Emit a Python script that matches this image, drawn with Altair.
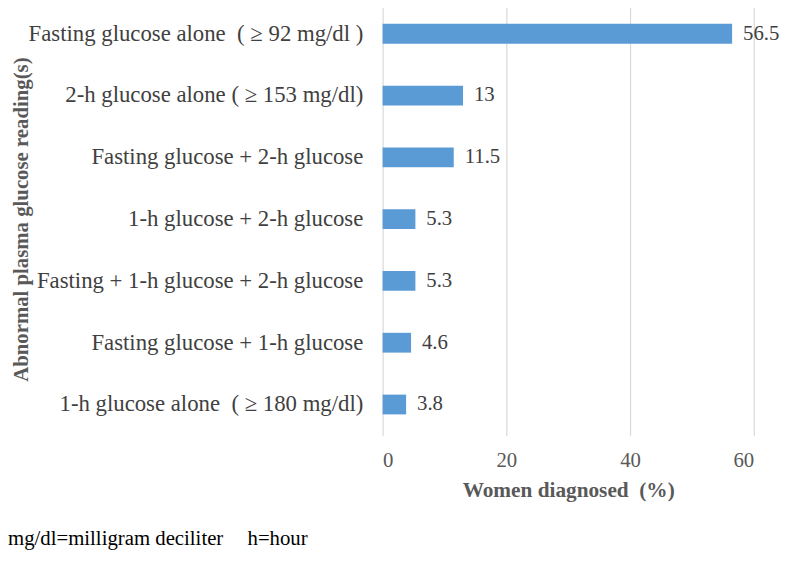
import altair as alt
import pandas as pd

NB = "\u00a0"
categories = [
    "Fasting glucose alone" + NB + " ( \u2265 92 mg/dl )",
    "2-h glucose alone ( \u2265 153 mg/dl)",
    "Fasting glucose + 2-h glucose",
    "1-h glucose + 2-h glucose",
    "Fasting + 1-h glucose + 2-h glucose",
    "Fasting glucose + 1-h glucose",
    "1-h glucose alone" + NB + " ( \u2265 180 mg/dl)",
]
values = [56.5, 13, 11.5, 5.3, 5.3, 4.6, 3.8]
value_labels = ["56.5", "13", "11.5", "5.3", "5.3", "4.6", "3.8"]
x_ticks = [0, 20, 40, 60]
footnotes = ["mg/dl=milligram deciliter", "h=hour"]

df = pd.DataFrame({"cat": categories, "val": values, "lab": value_labels})

FONT = "Liberation Serif"

y_enc = alt.Y(
    "cat:N",
    sort=None,
    scale=alt.Scale(paddingInner=0.68, paddingOuter=0.34),
    axis=alt.Axis(
        title="Abnormal plasma glucose reading(s)",
        titleFont=FONT,
        titleFontSize=21,
        titleFontWeight="bold",
        titleColor="#595959",
        titleX=-365,
        titleY=218.5,
        titleAngle=270,
        titleAlign="center",
        titleBaseline="middle",
        labelFont=FONT,
        labelFontSize=23,
        labelColor="#404040",
        labelPadding=20,
        labelLimit=500,
        ticks=False,
        tickSize=0,
        domain=False,
        grid=False,
    ),
)

x_enc = alt.X(
    "val:Q",
    scale=alt.Scale(domain=[0, 60], nice=False),
    axis=alt.Axis(
        values=x_ticks,
        title="Women diagnosed" + NB + " (%)",
        titleFont=FONT,
        titleFontSize=21.5,
        titleFontWeight="bold",
        titleColor="#595959",
        titleY=56,
        titleBaseline="middle",
        labelFont=FONT,
        labelFontSize=21,
        labelColor="#595959",
        labelBaseline="middle",
        labelPadding=25,
        ticks=False,
        tickSize=0,
        domain=False,
        grid=True,
        gridColor="#d9d9d9",
        gridWidth=1.2,
    ),
)

bars = alt.Chart(df).mark_bar(color="#5B9BD5", size=20).encode(x=x_enc, y=y_enc)

texts = alt.Chart(df).mark_text(
    align="left", baseline="middle", dx=11, font=FONT, fontSize=21, color="#404040"
).encode(x="val:Q", y=alt.Y("cat:N", sort=None), text="lab:N")

foot_df = pd.DataFrame({"t": footnotes, "px": [-378.5, -136.5]})
foot = alt.Chart(foot_df).mark_text(
    align="left", baseline="middle", font=FONT, fontSize=21, color="#000000"
).encode(x=alt.X("px:Q", scale=None), y=alt.value(542), text="t:N")

chart = (
    alt.layer(bars, texts, foot)
    .properties(
        width=375,
        height=437,
        autosize=alt.AutoSizeParams(type="none"),
        padding={"left": 378.5, "top": -8, "right": 25.5, "bottom": 115},
    )
    .configure_view(stroke=None)
)

chart.save("out.html", embed_options={"renderer": "svg", "actions": False})
